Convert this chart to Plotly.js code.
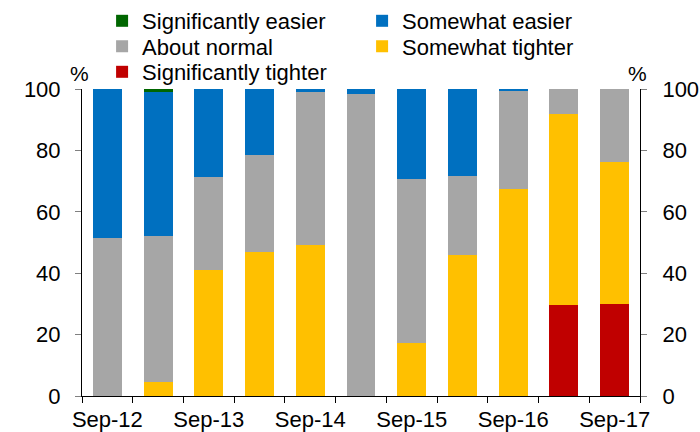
<!DOCTYPE html>
<html>
<head>
<meta charset="utf-8">
<script src="https://cdn.plot.ly/plotly-3.0.1.min.js"></script>
<style>html,body{margin:0;padding:0;background:#fff;}#chart{width:700px;height:432px;}</style>
</head>
<body>
<div id="chart"></div>
<script>
const periods = ['Sep-12','Mar-13','Sep-13','Mar-14','Sep-14','Mar-15','Sep-15','Mar-16','Sep-16','Mar-17','Sep-17'];
const tickLabels = ['Sep-12','','Sep-13','','Sep-14','','Sep-15','','Sep-16','','Sep-17'];
const sigTighter  = [0, 0, 0, 0, 0, 0, 0, 0, 0, 29.6, 30.0];
const someTighter = [0, 4.7, 41.1, 47.0, 49.1, 0, 17.2, 46.0, 67.5, 62.2, 46.3];
const aboutNormal = [51.4, 47.5, 30.2, 31.6, 49.9, 98.4, 53.6, 25.7, 31.7, 8.2, 23.7];
const someEasier  = [48.6, 46.7, 28.7, 21.4, 1.0, 1.6, 29.2, 28.3, 0.8, 0, 0];
const sigEasier   = [0, 1.1, 0, 0, 0, 0, 0, 0, 0, 0, 0];
const yTicks = [0, 20, 40, 60, 80, 100];

const FONT = 'Liberation Sans, Arial, sans-serif';
const FS = 22;
function bar(name, y, color, legend) {
  return {type: 'bar', name: name, x: periods, y: y, legend: legend,
    marker: {color: color, line: {width: 0}}, hoverinfo: 'skip'};
}
const data = [
  bar('Significantly tighter', sigTighter, '#C00000', 'legend3'),
  bar('Somewhat tighter', someTighter, '#FFC000', 'legend2'),
  bar('About normal', aboutNormal, '#A6A6A6', 'legend2'),
  bar('Somewhat easier', someEasier, '#0070C0', 'legend'),
  bar('Significantly easier', sigEasier, '#006600', 'legend'),
  {type: 'scatter', x: [], y: [], yaxis: 'y2', showlegend: false, hoverinfo: 'skip'}
];
const B = 396, H = B - 89;
function py(p) { return (B - p) / H; }
const legBase = {orientation: 'h', x: 0.036, xanchor: 'left', yanchor: 'middle',
  font: {family: FONT, size: FS, color: '#000'}, entrywidth: 215, entrywidthmode: 'pixels',
  bgcolor: 'rgba(0,0,0,0)', borderwidth: 0};
const yAx = {range: [0, 100], tickvals: yTicks, ticks: 'outside', ticklen: 6, tickcolor: '#808080',
  showline: true, linecolor: '#000', linewidth: 1, showgrid: false, zeroline: false,
  tickfont: {family: FONT, size: FS, color: '#000'}, fixedrange: true};
const layout = {
  width: 700, height: 432,
  margin: {l: 82, r: 60, t: 89, b: 36, autoexpand: false},
  paper_bgcolor: '#fff', plot_bgcolor: '#fff',
  barmode: 'stack', bargap: 0.43,
  font: {family: FONT, size: FS, color: '#000'},
  xaxis: {type: 'category', tickvals: periods, ticktext: tickLabels, tickson: 'boundaries', tickangle: 0,
    ticks: 'outside', ticklen: 6, tickcolor: '#000', showline: true, linecolor: '#000', linewidth: 1,
    ticklabelstandoff: 4,
    showgrid: false, zeroline: false, tickfont: {family: FONT, size: FS, color: '#000'}, fixedrange: true},
  yaxis: Object.assign({}, yAx, {side: 'left', ticklabelstandoff: 10}),
  yaxis2: Object.assign({}, yAx, {side: 'right', overlaying: 'y', anchor: 'x', ticklabelstandoff: 11}),
  legend: Object.assign({}, legBase, {y: py(21), traceorder: 'reversed'}),
  legend2: Object.assign({}, legBase, {y: py(46.5), traceorder: 'reversed'}),
  legend3: Object.assign({}, legBase, {y: py(72), traceorder: 'normal'}),
  showlegend: true,
  annotations: [
    {text: '%', xref: 'paper', yref: 'paper', x: -0.004, y: py(73), xanchor: 'center', yanchor: 'middle', showarrow: false, font: {family: FONT, size: 21, color: '#000'}},
    {text: '%', xref: 'paper', yref: 'paper', x: 0.996, y: py(73), xanchor: 'center', yanchor: 'middle', showarrow: false, font: {family: FONT, size: 21, color: '#000'}}
  ]
};
Plotly.newPlot('chart', data, layout, {staticPlot: true, displayModeBar: false});
</script>
</body>
</html>
